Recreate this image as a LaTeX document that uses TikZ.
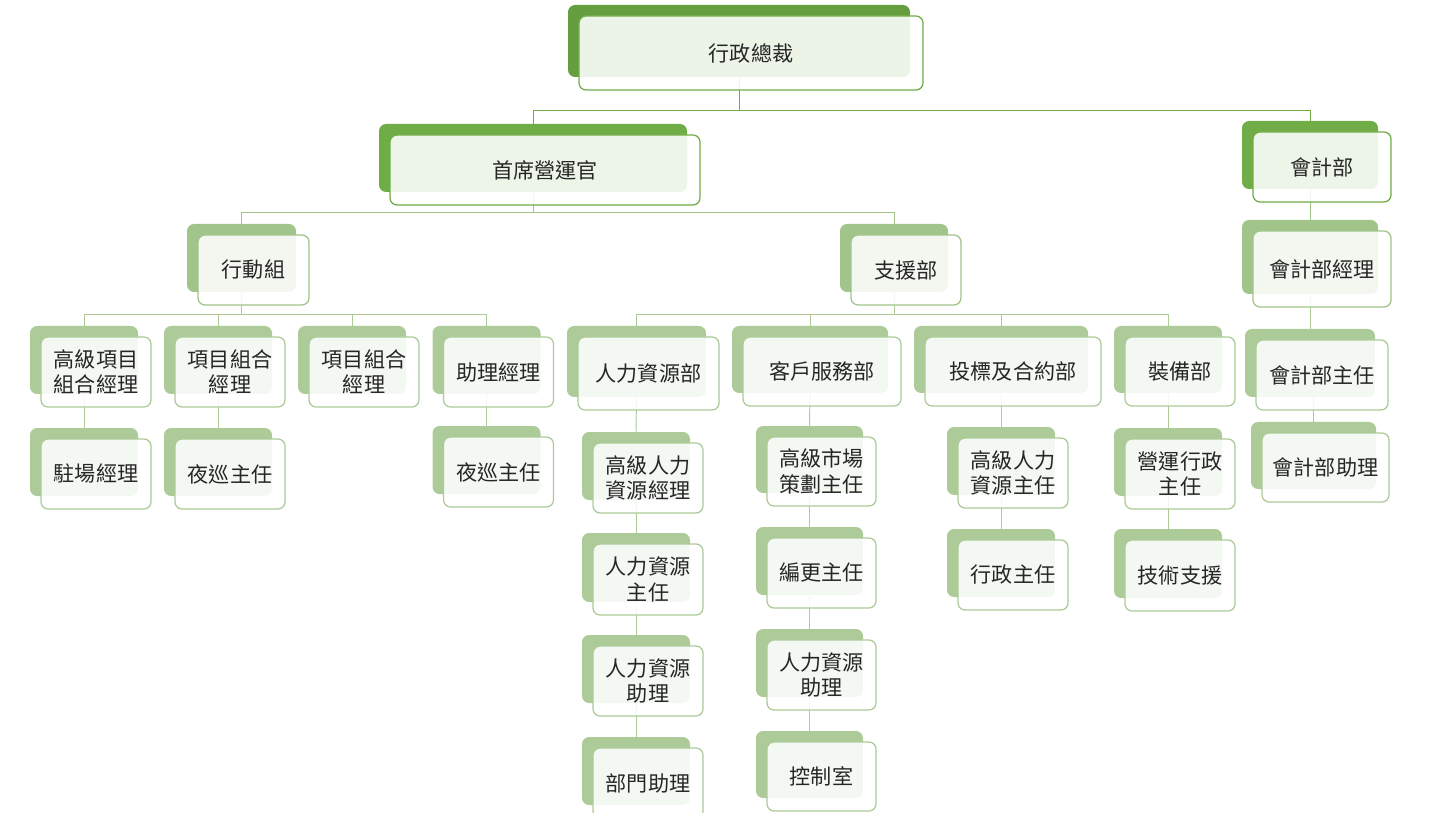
\documentclass[tikz,border=0pt]{standalone}
\usepackage{fontspec}
\newfontfamily\cjkfont{Noto Sans CJK TC}
\usepackage{tikz}
\usetikzlibrary{backgrounds}
\definecolor{deepgreen}{RGB}{100,158,62}
\definecolor{leafgreen}{RGB}{112,173,71}
\definecolor{sagegreen}{RGB}{160,196,137}
\definecolor{palegreen}{RGB}{172,203,152}
\tikzset{
    boxsize/.style 2 args={minimum width=#1*0.025cm, minimum height=#2*0.025cm},
    backbox/.style={rectangle, rounded corners=5pt, inner sep=0pt, fill=#1},
    frontbox/.style={rectangle, rounded corners=5pt, inner sep=0pt, align=center, draw=#1, line width=0.9pt, fill=white, fill opacity=0.88, text opacity=1, text=black!85, font=\cjkfont\fontsize{15}{18}\selectfont},
    link/.style={line width=0.7pt, draw=#1}
}

\begin{document}
\begin{tikzpicture}[x=0.025cm, y=-0.025cm]
        \useasboundingbox (0,0) rectangle (1455,813);

        % Executive
        \node[backbox=deepgreen, boxsize={342}{72}] (ceo) at (739,41) {};
        \node[frontbox=leafgreen, boxsize={344}{74}] (ceo-t) at ([shift={(12,12)}]ceo.center) {行政總裁};

        % Second level
        \node[backbox=leafgreen, boxsize={308}{68}] (coo) at (533,158) {};
        \node[frontbox=leafgreen, boxsize={310}{70}] (coo-t) at ([shift={(12,12)}]coo.center) {首席營運官};
        \node[backbox=leafgreen, boxsize={136}{68}] (acc) at (1310,155) {};
        \node[frontbox=leafgreen, boxsize={138}{70}] (acc-t) at ([shift={(12,12)}]acc.center) {會計部};

        % Third level
        \node[backbox=sagegreen, boxsize={109}{68}] (ops) at (241.5,258) {};
        \node[frontbox=sagegreen, boxsize={111}{70}] (ops-t) at ([shift={(12,12)}]ops.center) {行動組};
        \node[backbox=sagegreen, boxsize={108}{68}] (sup) at (894,258) {};
        \node[frontbox=sagegreen, boxsize={110}{70}] (sup-t) at ([shift={(12,12)}]sup.center) {支援部};
        \node[backbox=sagegreen, boxsize={136}{74}] (accm) at (1310,257) {};
        \node[frontbox=sagegreen, boxsize={138}{76}] (accm-t) at ([shift={(12,12)}]accm.center) {會計部經理};

        % Operations team
        \node[backbox=palegreen, boxsize={108}{68}] (spm) at (84,360) {};
        \node[frontbox=palegreen, boxsize={110}{70}] (spm-t) at ([shift={(12,12)}]spm.center) {高級項目\\組合經理};
        \node[backbox=palegreen, boxsize={108}{68}] (pm1) at (218,360) {};
        \node[frontbox=palegreen, boxsize={110}{70}] (pm1-t) at ([shift={(12,12)}]pm1.center) {項目組合\\經理};
        \node[backbox=palegreen, boxsize={108}{68}] (pm2) at (352,360) {};
        \node[frontbox=palegreen, boxsize={110}{70}] (pm2-t) at ([shift={(12,12)}]pm2.center) {項目組合\\經理};
        \node[backbox=palegreen, boxsize={108}{68}] (am) at (486.5,360) {};
        \node[frontbox=palegreen, boxsize={110}{70}] (am-t) at ([shift={(12,12)}]am.center) {助理經理};
        \node[backbox=palegreen, boxsize={108}{68}] (sm) at (84,462) {};
        \node[frontbox=palegreen, boxsize={110}{70}] (sm-t) at ([shift={(12,12)}]sm.center) {駐場經理};
        \node[backbox=palegreen, boxsize={108}{68}] (np1) at (218,462) {};
        \node[frontbox=palegreen, boxsize={110}{70}] (np1-t) at ([shift={(12,12)}]np1.center) {夜巡主任};
        \node[backbox=palegreen, boxsize={108}{68}] (np2) at (486.5,460) {};
        \node[frontbox=palegreen, boxsize={110}{70}] (np2-t) at ([shift={(12,12)}]np2.center) {夜巡主任};

        % Support departments
        \node[backbox=palegreen, boxsize={139}{71}] (hr) at (636.5,361.5) {};
        \node[frontbox=palegreen, boxsize={141}{73}] (hr-t) at ([shift={(12,12)}]hr.center) {人力資源部};
        \node[backbox=palegreen, boxsize={156}{67}] (cs) at (810,359.5) {};
        \node[frontbox=palegreen, boxsize={158}{69}] (cs-t) at ([shift={(12,12)}]cs.center) {客戶服務部};
        \node[backbox=palegreen, boxsize={174}{67}] (tc) at (1001,359.5) {};
        \node[frontbox=palegreen, boxsize={176}{69}] (tc-t) at ([shift={(12,12)}]tc.center) {投標及合約部};
        \node[backbox=palegreen, boxsize={108}{67}] (eq) at (1168,359.5) {};
        \node[frontbox=palegreen, boxsize={110}{69}] (eq-t) at ([shift={(12,12)}]eq.center) {裝備部};

        % Human resources
        \node[backbox=palegreen, boxsize={108}{68}] (shrm) at (636,466) {};
        \node[frontbox=palegreen, boxsize={110}{70}] (shrm-t) at ([shift={(12,12)}]shrm.center) {高級人力\\資源經理};
        \node[backbox=palegreen, boxsize={108}{69}] (hro) at (636,567.5) {};
        \node[frontbox=palegreen, boxsize={110}{71}] (hro-t) at ([shift={(12,12)}]hro.center) {人力資源\\主任};
        \node[backbox=palegreen, boxsize={108}{68}] (hra1) at (636,669) {};
        \node[frontbox=palegreen, boxsize={110}{70}] (hra1-t) at ([shift={(12,12)}]hra1.center) {人力資源\\助理};
        \node[backbox=palegreen, boxsize={108}{68}] (da) at (636,771) {};
        \node[frontbox=palegreen, boxsize={110}{70}] (da-t) at ([shift={(12,12)}]da.center) {部門助理};

        % Customer service
        \node[backbox=palegreen, boxsize={107}{67}] (smp) at (809.5,459.5) {};
        \node[frontbox=palegreen, boxsize={109}{69}] (smp-t) at ([shift={(12,12)}]smp.center) {高級市場\\策劃主任};
        \node[backbox=palegreen, boxsize={107}{68}] (rs) at (809.5,561) {};
        \node[frontbox=palegreen, boxsize={109}{70}] (rs-t) at ([shift={(12,12)}]rs.center) {編更主任};
        \node[backbox=palegreen, boxsize={107}{68}] (hra2) at (809.5,663) {};
        \node[frontbox=palegreen, boxsize={109}{70}] (hra2-t) at ([shift={(12,12)}]hra2.center) {人力資源\\助理};
        \node[backbox=palegreen, boxsize={107}{67}] (cr) at (809.5,764.5) {};
        \node[frontbox=palegreen, boxsize={109}{69}] (cr-t) at ([shift={(12,12)}]cr.center) {控制室};

        % Tender and contracts, equipment
        \node[backbox=palegreen, boxsize={108}{68}] (shro) at (1001,461) {};
        \node[frontbox=palegreen, boxsize={110}{70}] (shro-t) at ([shift={(12,12)}]shro.center) {高級人力\\資源主任};
        \node[backbox=palegreen, boxsize={108}{68}] (ao) at (1001,563) {};
        \node[frontbox=palegreen, boxsize={110}{70}] (ao-t) at ([shift={(12,12)}]ao.center) {行政主任};
        \node[backbox=palegreen, boxsize={108}{68}] (oao) at (1168,462) {};
        \node[frontbox=palegreen, boxsize={110}{70}] (oao-t) at ([shift={(12,12)}]oao.center) {營運行政\\主任};
        \node[backbox=palegreen, boxsize={108}{69}] (ts) at (1168,563.5) {};
        \node[frontbox=palegreen, boxsize={110}{71}] (ts-t) at ([shift={(12,12)}]ts.center) {技術支援};

        % Accounts
        \node[backbox=palegreen, boxsize={130}{68}] (accs) at (1310,363) {};
        \node[frontbox=palegreen, boxsize={132}{70}] (accs-t) at ([shift={(12,12)}]accs.center) {會計部主任};
        \node[backbox=palegreen, boxsize={125}{67}] (acca) at (1313.5,455.5) {};
        \node[frontbox=palegreen, boxsize={127}{69}] (acca-t) at ([shift={(12,12)}]acca.center) {會計部助理};

        % Connectors
        \begin{scope}[on background layer]
            \draw[link=leafgreen] (ceo.south) -- ++(0,33) -| (coo.north);
            \draw[link=leafgreen] (ceo.south) ++(0,33) -| (acc.north);
            \draw[link=sagegreen] (coo.south) -- ++(0,20) -| (ops.north);
            \draw[link=sagegreen] (coo.south) ++(0,20) -| (sup.north);
            \draw[link=sagegreen] (acc) -- (accm);
            \draw[link=palegreen] (ops.south) -- ++(0,22) -| (spm.north);
            \draw[link=palegreen] (ops.south) ++(0,22) -| (pm1.north);
            \draw[link=palegreen] (ops.south) ++(0,22) -| (pm2.north);
            \draw[link=palegreen] (ops.south) ++(0,22) -| (am.north);
            \draw[link=palegreen] (sup.south) -- ++(0,22) -| (hr.north);
            \draw[link=palegreen] (sup.south) ++(0,22) -| (cs.north);
            \draw[link=palegreen] (sup.south) ++(0,22) -| (tc.north);
            \draw[link=palegreen] (sup.south) ++(0,22) -| (eq.north);
            \draw[link=palegreen] (spm) -- (sm);
            \draw[link=palegreen] (pm1) -- (np1);
            \draw[link=palegreen] (am) -- (np2);
            \draw[link=palegreen] (hr.south) -- (shrm.north);
            \draw[link=palegreen] (shrm) -- (hro);
            \draw[link=palegreen] (hro) -- (hra1);
            \draw[link=palegreen] (hra1) -- (da);
            \draw[link=palegreen] (cs.south) -- (smp.north);
            \draw[link=palegreen] (smp) -- (rs);
            \draw[link=palegreen] (rs) -- (hra2);
            \draw[link=palegreen] (hra2) -- (cr);
            \draw[link=palegreen] (tc) -- (shro);
            \draw[link=palegreen] (shro) -- (ao);
            \draw[link=palegreen] (eq) -- (oao);
            \draw[link=palegreen] (oao) -- (ts);
            \draw[link=palegreen] (accm) -- (accs);
            \draw[link=palegreen] (acca.north |- accs.south) -- (acca.north);
        \end{scope}
    \end{tikzpicture}
\end{document}
